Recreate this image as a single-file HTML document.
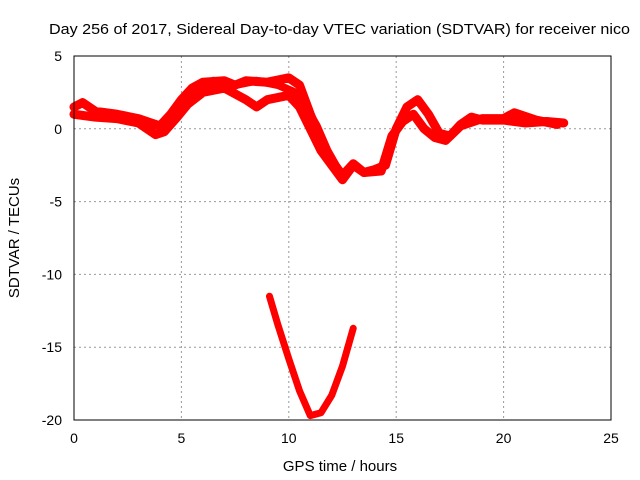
<!DOCTYPE html>
<html><head><meta charset="utf-8"><style>
body{margin:0;background:#fff;}
svg{display:block;font-family:"Liberation Sans",sans-serif;}
</style></head><body>
<svg id="chart" width="640" height="480" viewBox="0 0 640 480">
<text x="49" y="34" font-size="15" textLength="581" lengthAdjust="spacingAndGlyphs">Day 256 of 2017, Sidereal Day-to-day VTEC variation (SDTVAR) for receiver nico</text>
<g id="grid"></g>
<g id="series"></g>
<rect x="74" y="56" width="537" height="364" fill="none" stroke="#000" stroke-width="1"/>
<g id="ticks" font-size="14"></g>
<text x="340" y="471" font-size="15" text-anchor="middle">GPS time / hours</text>
<text x="0" y="0" font-size="15" text-anchor="middle" transform="translate(19,238) rotate(-90)">SDTVAR / TECUs</text>
</svg>
<script>
const xTicks=[0,5,10,15,20,25];
const yTicks=[5,0,-5,-10,-15,-20];
const seriesUpper=[[0,1.5],[0.4,1.8],[1,1.2],[2,1.0],[3,0.7],[3.6,0.4],[4,0.2],[4.5,1.0],[5,2.0],[5.5,2.8],[6,3.2],[7,3.3],[7.5,3.0],[8,3.3],[9,3.2],[10,3.5],[10.5,3.0],[11,1.0],[11.5,-0.8],[12,-2.2],[12.5,-3.2],[13,-2.4],[13.5,-3.0],[14,-2.8],[14.5,-2.5],[15,0],[15.5,1.5],[16,2.0],[16.5,1.0],[17,-0.3],[17.5,-0.5],[18,0.3],[18.5,0.8],[19,0.6],[20,0.6],[21,0.4],[22,0.5],[22.8,0.4]];
const seriesLower=[[0,1.0],[1,0.8],[2,0.7],[3,0.4],[3.8,-0.4],[4.2,-0.2],[4.8,0.8],[5.3,1.7],[6,2.5],[7,2.8],[8,2.0],[8.5,1.5],[9,2.0],[10,2.3],[10.5,1.5],[11,0],[11.5,-1.5],[12,-2.5],[12.5,-3.5],[13,-2.5],[13.5,-3.0],[14.3,-2.9],[14.8,-0.5],[15.3,0.5],[15.8,1.0],[16.3,0],[16.8,-0.6],[17.3,-0.8],[18,0.2],[19,0.7],[20,0.7],[20.5,1.1],[21.5,0.6],[22.5,0.3]];
const seriesMid=[[4.3,0.5],[5,1.5],[5.5,2.3],[6.5,3.3],[7.5,3.0],[8.5,3.3],[9.5,3.0],[10.3,2.5],[10.8,1.5],[11.3,0.2],[11.8,-1.5],[12.3,-2.8]];
const seriesDip=[[9.1,-11.5],[9.5,-13.5],[10,-15.8],[10.5,-18],[11,-19.7],[11.5,-19.5],[12,-18.3],[12.5,-16.3],[13,-13.7]];
const NS="http://www.w3.org/2000/svg";
const X=v=>74+v*537/25, Y=v=>56+(5-v)*364/25;
const grid=document.getElementById('grid'), ticks=document.getElementById('ticks'), ser=document.getElementById('series');
function mk(t,a,p){const e=document.createElementNS(NS,t);for(const k in a)e.setAttribute(k,a[k]);p.appendChild(e);return e;}
xTicks.forEach(t=>{
  if(t>0&&t<25){const g=mk('line',{x1:X(t),x2:X(t),y1:56,y2:420,stroke:'#999','stroke-dasharray':'2,3'},grid);
  
  }
  const l=mk('text',{x:X(t),y:443,'text-anchor':'middle'},ticks);l.textContent=t;
  
  
});
yTicks.forEach(t=>{
  if(t<5&&t>-20){const g=mk('line',{x1:74,x2:611,y1:Y(t),y2:Y(t),stroke:'#999','stroke-dasharray':'2,3'},grid);
  
  }
  const l=mk('text',{x:62,y:Y(t)+5,'text-anchor':'end'},ticks);l.textContent=t;
  
  
});
function draw(data,name,w){
  const p=mk('polyline',{points:data.map(d=>X(d[0])+','+Y(d[1])).join(' '),fill:'none',stroke:'#f00','stroke-width':w,'stroke-linejoin':'round','stroke-linecap':'round'},ser);
  
  
}
draw(seriesUpper,'series-upper',9);
draw(seriesLower,'series-lower',9);
draw(seriesMid,'series-mid',8);
draw(seriesDip,'series-dip',7);
</script>
</body></html>
